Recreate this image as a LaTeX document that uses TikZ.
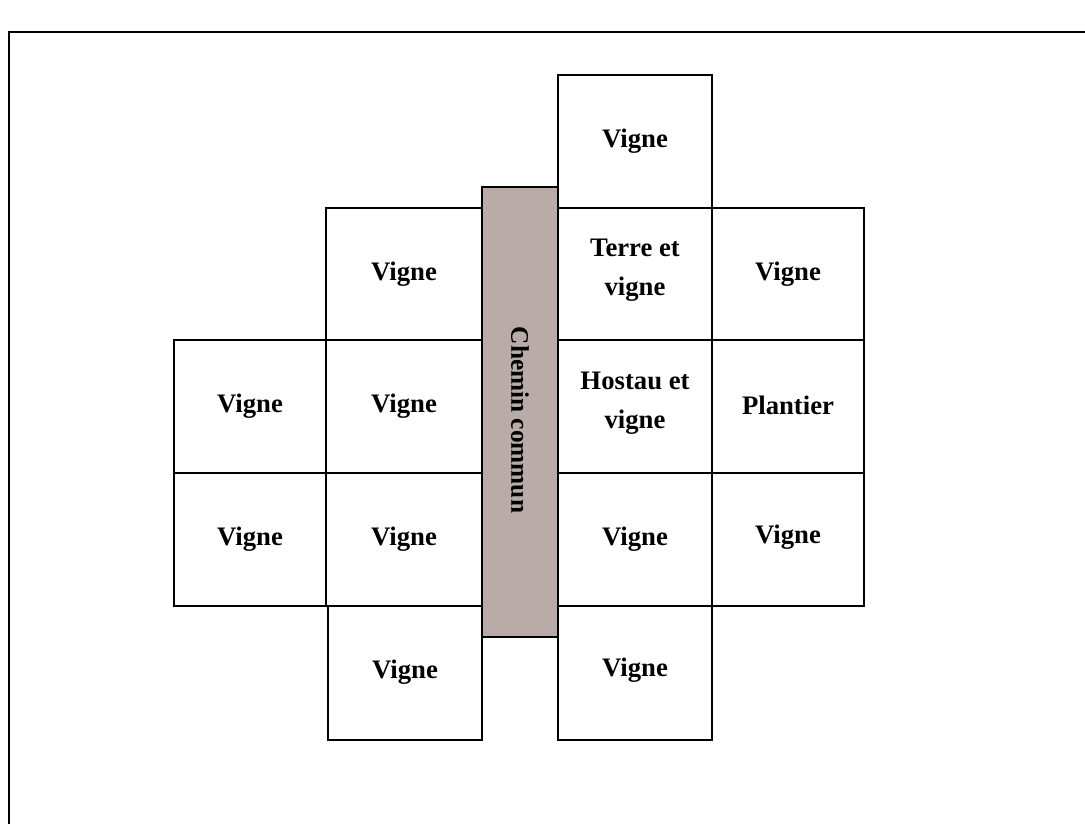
\documentclass[tikz,border=0pt]{standalone}
\usepackage{fontspec}
\setmainfont{Liberation Serif}
\definecolor{chemin}{RGB}{185,172,168}
\begin{document}
\begin{tikzpicture}  % ------ Plan des parcelles  ---------------
      [x={(0.02cm,0cm)},y={(0cm,-0.02cm)},line width=1.4pt,
       font=\fontsize{15.2}{22}\selectfont\bfseries]
    \useasboundingbox (0,0) rectangle (1085,824);
    \draw [line width=1.6pt] (9,824) -- (9,32) -- (1085,32) ;

    % chemin
    \draw [fill=chemin] (482,187) rectangle (558,637) ;
    \node [rotate=-90,font=\fontsize{14.4}{18}\selectfont\bfseries] (chemin) at (520,420) {Chemin commun} ;

    % rangee du haut
    \draw (558,75) rectangle (712,208) ;
    \node (v01) at (635,141.5) {Vigne} ;

    \draw (326,208) rectangle (482,340) ;
    \node (v12) at (404,274) {Vigne} ;
    \draw (558,208) rectangle (712,340) ;
    \node [align=center] (terre) at (635,270) {Terre et\\vigne} ;
    \draw (712,208) rectangle (864,340) ;
    \node (v14) at (788,274) {Vigne} ;

    % rangee du milieu
    \draw (174,340) rectangle (326,473) ;
    \node (v21) at (250,406.5) {Vigne} ;
    \draw (326,340) rectangle (482,473) ;
    \node (v22) at (404,406.5) {Vigne} ;
    \draw (558,340) rectangle (712,473) ;
    \node [align=center] (hostau) at (635,403) {Hostau et\\vigne} ;
    \draw (712,340) rectangle (864,473) ;
    \node (plantier) at (788,405) {Plantier} ;

    \draw (174,473) rectangle (326,606) ;
    \node (v31) at (250,539) {Vigne} ;
    \draw (326,473) rectangle (482,606) ;
    \node (v32) at (404,539) {Vigne} ;
    \draw (558,473) rectangle (712,606) ;
    \node (v33) at (635,539) {Vigne} ;
    \draw (712,473) rectangle (864,606) ;
    \node (v34) at (788,537) {Vigne} ;

    % rangee du bas
    \draw (328,606) rectangle (482,740) ;
    \node (v42) at (405,672) {Vigne} ;
    \draw (558,606) rectangle (712,740) ;
    \node (v43) at (635,670) {Vigne} ;
\end{tikzpicture}
\end{document}
